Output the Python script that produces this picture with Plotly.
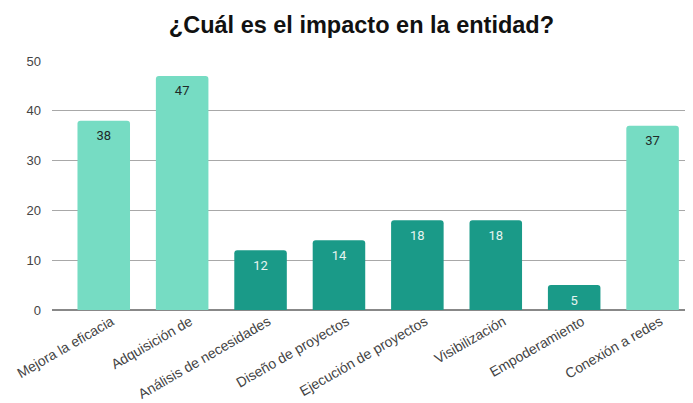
import plotly.graph_objects as go

categories = ["Mejora la eficacia", "Adquisición de", "Análisis de necesidades",
              "Diseño de proyectos", "Ejecución de proyectos", "Visibilización",
              "Empoderamiento", "Conexión a redes"]
values = [38, 47, 12, 14, 18, 18, 5, 37]
light = "#76dcc3"
dark = "#1a9a88"
colors = [light, light, dark, dark, dark, dark, dark, light]
text_colors = ["#1f2b28", "#1f2b28", "#e6f4f0", "#e6f4f0", "#e6f4f0", "#e6f4f0", "#e6f4f0", "#1f2b28"]

xs = list(range(len(categories)))
fig = go.Figure(go.Bar(
    x=xs, y=values,
    marker=dict(color=colors, cornerradius=3, line=dict(width=0)),
    width=0.67,
    hoverinfo="x+y",
))
fig.add_trace(go.Scatter(
    x=xs, y=values, mode="markers+text",
    marker=dict(size=14, opacity=0),
    text=[str(v) for v in values],
    textposition="bottom center",
    textfont=dict(family="Roboto", size=13, color=text_colors),
    hoverinfo="skip",
))

label_shift = 0.1
fig.update_layout(
    width=685, height=395,
    margin=dict(l=44, r=2, t=53, b=93),
    paper_bgcolor="white", plot_bgcolor="white",
    title=dict(text="<b>¿Cuál es el impacto en la entidad?</b>", x=0.516, xanchor="center",
               y=0.957, yanchor="middle",
               font=dict(family="Liberation Sans, Arial", size=23.5, color="#111111")),
    font=dict(family="Liberation Sans, Arial"),
    showlegend=False,
)
fig.update_xaxes(
    range=[-0.66, 7.49], tickmode="array", tickvals=[x + label_shift for x in xs],
    ticktext=categories, tickangle=-30, showgrid=False, showline=False,
    tickfont=dict(family="Liberation Sans, Arial", size=14, color="#444444"), ticks="",
    automargin=False, ticklabeloverflow="allow",
)
fig.update_yaxes(
    range=[0, 50], dtick=10, showgrid=True, gridcolor="#a8a8a8", gridwidth=1,
    zeroline=True, zerolinecolor="#888888", zerolinewidth=2,
    tickfont=dict(family="Liberation Sans, Arial", size=13, color="#444444"), ticks="",
    ticklabelstandoff=10, automargin=False,
)
fig.write_html("out.html")
